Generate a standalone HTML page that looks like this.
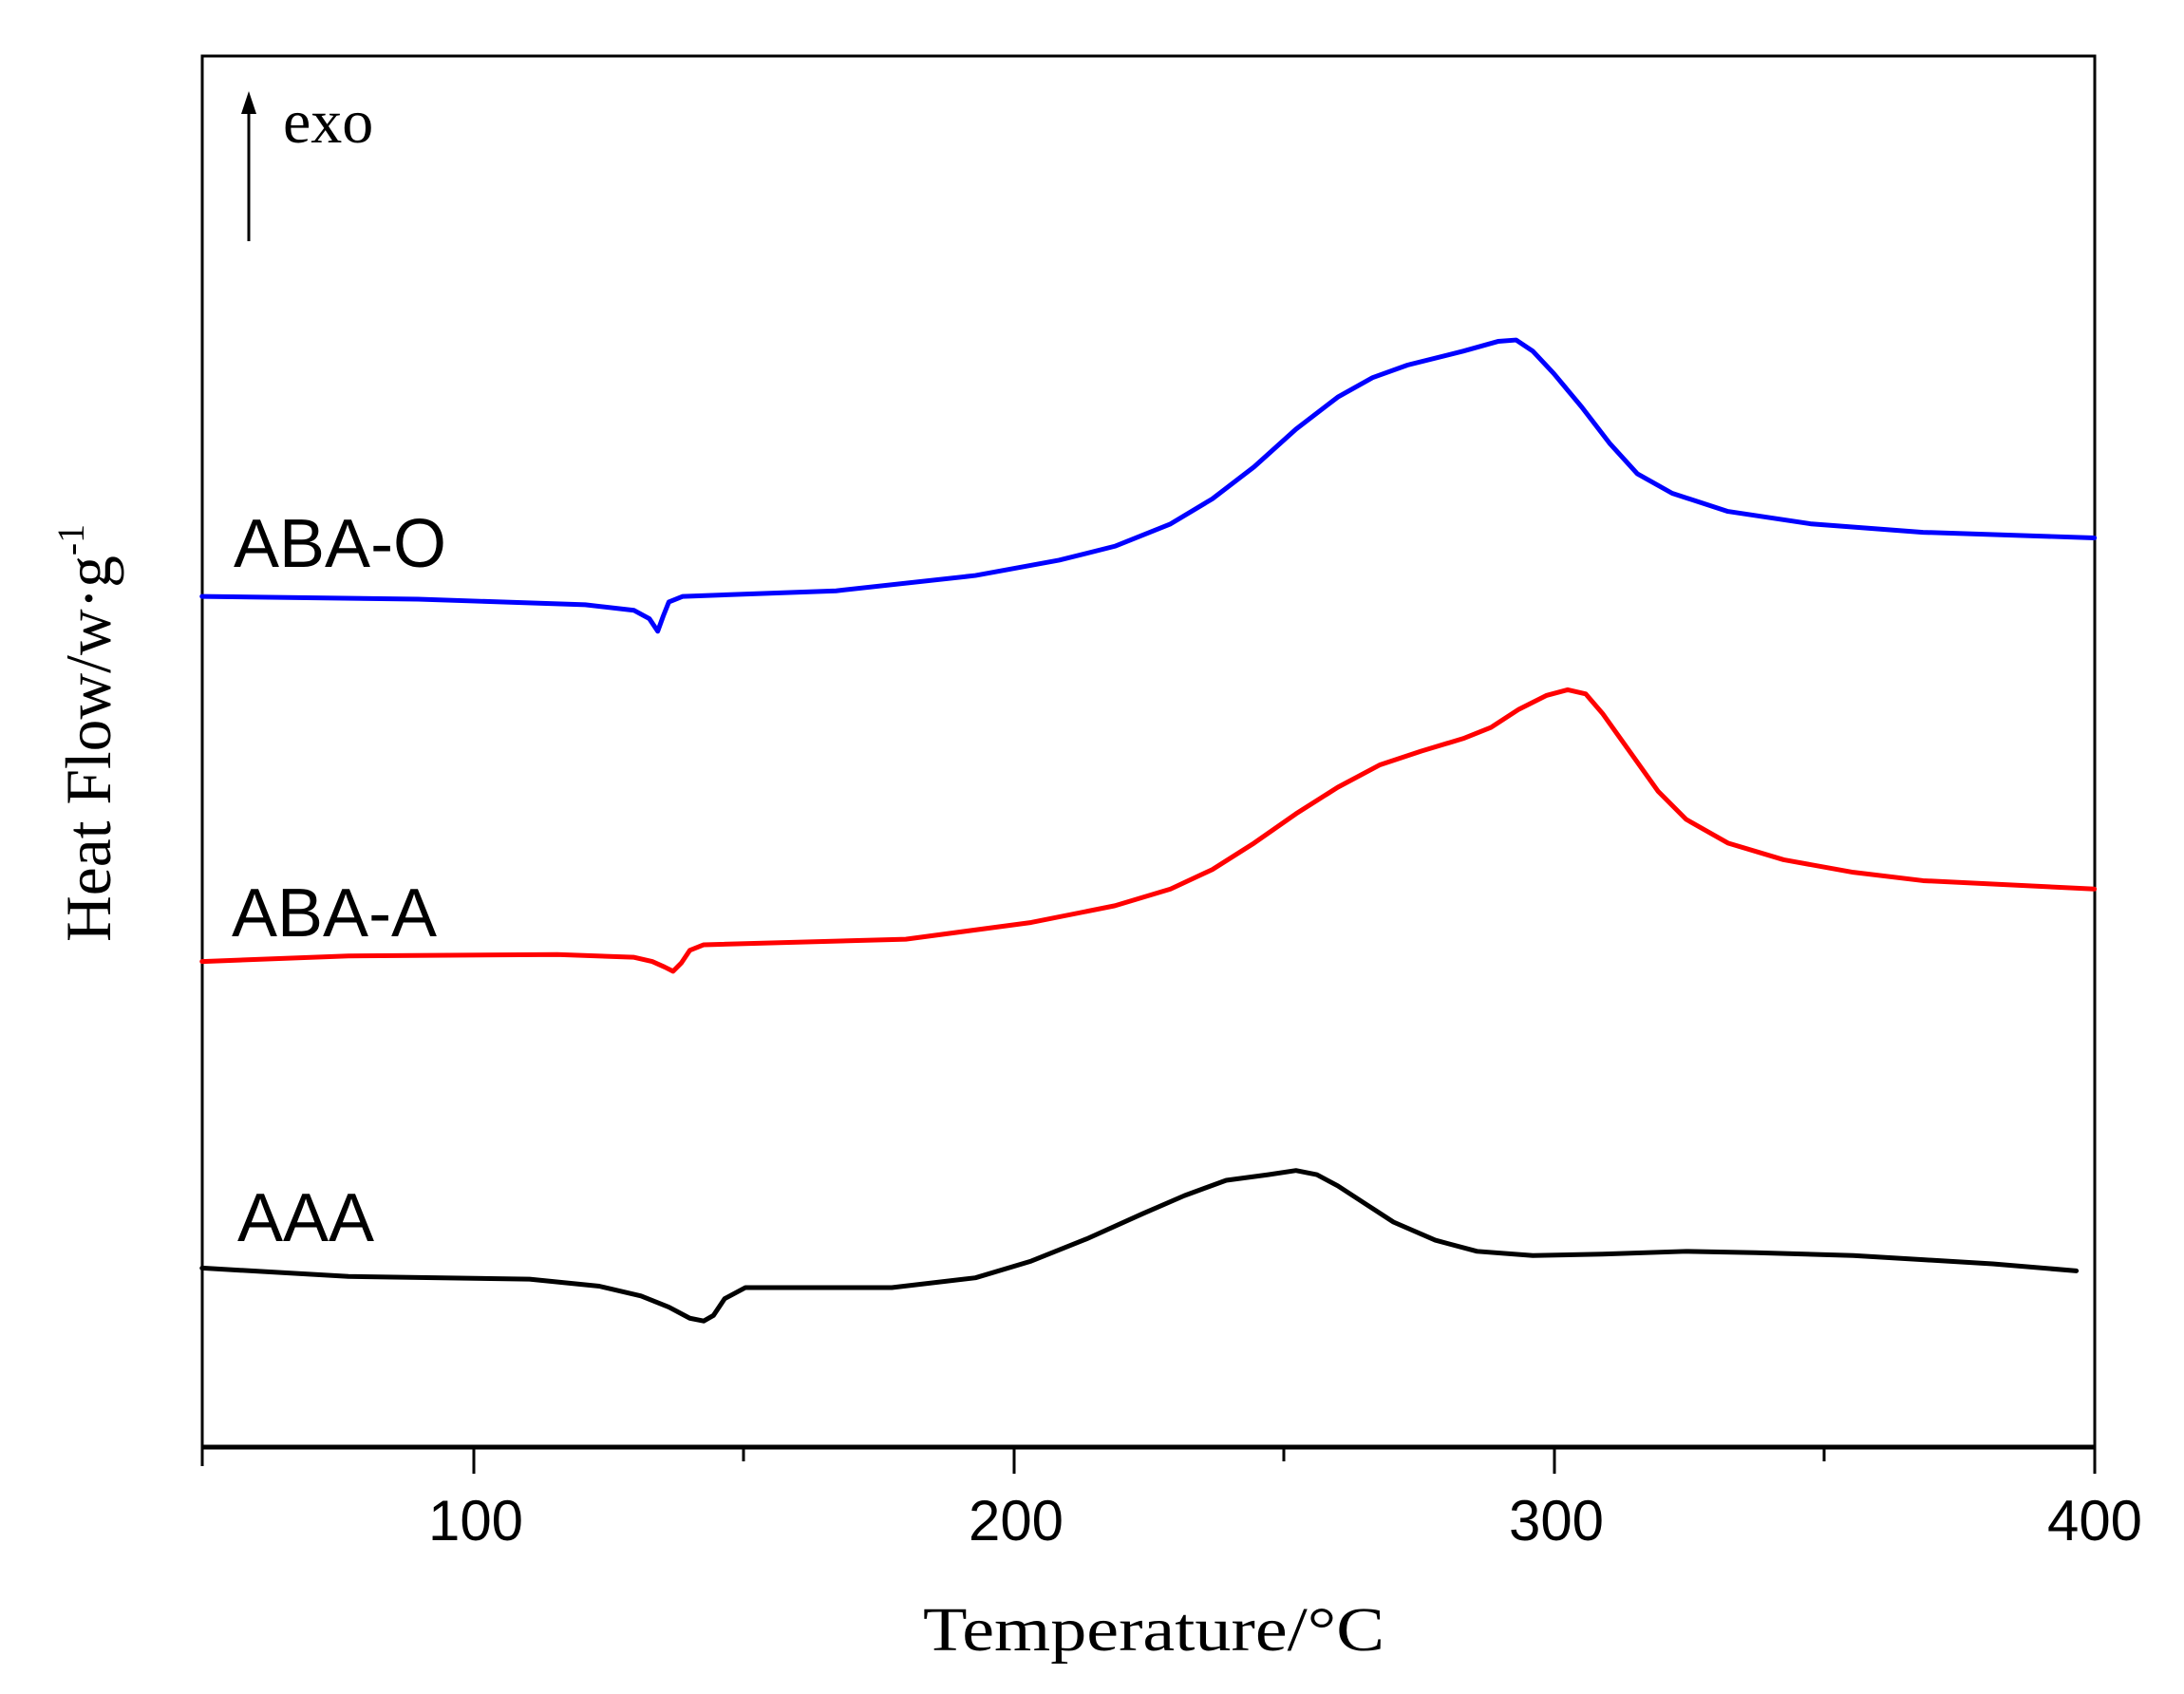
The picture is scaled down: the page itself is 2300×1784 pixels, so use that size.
<!DOCTYPE html>
<html><head><meta charset="utf-8"><style>html,body{margin:0;padding:0;background:#fff}svg{display:block}</style></head>
<body>
<svg width="2300" height="1784" viewBox="0 0 2300 1784" xmlns="http://www.w3.org/2000/svg">
<rect x="0" y="0" width="2300" height="1784" fill="#fff"/>
<rect x="213" y="59" width="1993" height="1465" fill="none" stroke="#000" stroke-width="3"/>
<line x1="213" y1="1524" x2="2206" y2="1524" stroke="#000" stroke-width="5"/>
<g stroke="#000" stroke-width="3">
<line x1="213" y1="1524" x2="213" y2="1544"/>
<line x1="499" y1="1524" x2="499" y2="1552"/>
<line x1="783" y1="1524" x2="783" y2="1539"/>
<line x1="1068" y1="1524" x2="1068" y2="1552"/>
<line x1="1352" y1="1524" x2="1352" y2="1539"/>
<line x1="1637" y1="1524" x2="1637" y2="1552"/>
<line x1="1921" y1="1524" x2="1921" y2="1539"/>
<line x1="2206" y1="1524" x2="2206" y2="1552"/>
</g>
<g font-family="Liberation Sans, sans-serif" font-size="60" text-anchor="middle" fill="#000">
<text x="501" y="1622" textLength="100" lengthAdjust="spacingAndGlyphs">100</text>
<text x="1070" y="1622" textLength="100" lengthAdjust="spacingAndGlyphs">200</text>
<text x="1639" y="1622" textLength="100" lengthAdjust="spacingAndGlyphs">300</text>
<text x="2206" y="1622" textLength="100" lengthAdjust="spacingAndGlyphs">400</text>
</g>
<text x="1215" y="1738" font-family="Liberation Serif, serif" font-size="66" text-anchor="middle" textLength="486" lengthAdjust="spacingAndGlyphs">Temperature/°C</text>
<text transform="translate(116,772) rotate(-90)" font-family="Liberation Serif, serif" font-size="68" text-anchor="middle" textLength="440" lengthAdjust="spacingAndGlyphs">Heat Flow/w·g<tspan font-size="40" dy="-28">-1</tspan></text>
<line x1="262" y1="254" x2="262" y2="108" stroke="#000" stroke-width="3"/>
<polygon points="262,96 254,120 270,120" fill="#000"/>
<text x="298" y="150" font-family="Liberation Serif, serif" font-size="66">exo</text>
<g font-family="Liberation Sans, sans-serif" font-size="72" fill="#000">
<text x="246" y="597">ABA-O</text>
<text x="244" y="986">ABA-A</text>
<text x="250" y="1307">AAA</text>
</g>
<g transform="scale(1.4675)" fill="none" stroke-width="3.4" stroke-linejoin="round" stroke-linecap="round">
<polyline stroke="#0000ff" points="145,428 300,430 420,434 455,438 466,444 472,453 476,442 480,432 490,428 600,424 700,413 760,402 800,392 840,376 870,358 900,335 930,308 960,285 985,271 1010,262 1050,252 1075,245 1088,244 1100,252 1115,268 1135,292 1155,318 1175,340 1200,354 1240,367 1300,376 1380,382 1503,386"/>
<polyline stroke="#ff0000" points="145,690 250,686 400,685 455,687 468,690 477,694 483,697 489,691 495,682 505,678 650,674 740,662 800,650 840,638 870,624 900,605 930,584 960,565 990,549 1020,539 1050,530 1070,522 1090,509 1110,499 1125,495 1138,498 1150,512 1170,540 1190,568 1210,588 1240,605 1280,617 1330,626 1380,632 1503,638"/>
<polyline stroke="#000" points="145,910 250,916 380,918 430,923 460,930 480,938 495,946 505,948 512,944 520,932 535,924 640,924 700,917 740,905 780,889 820,871 850,858 880,847 910,843 930,840 945,843 960,851 980,864 1000,877 1030,890 1060,898 1100,901 1150,900 1210,898 1260,899 1330,901 1380,904 1430,907 1490,912"/>
</g>
</svg>
</body></html>
